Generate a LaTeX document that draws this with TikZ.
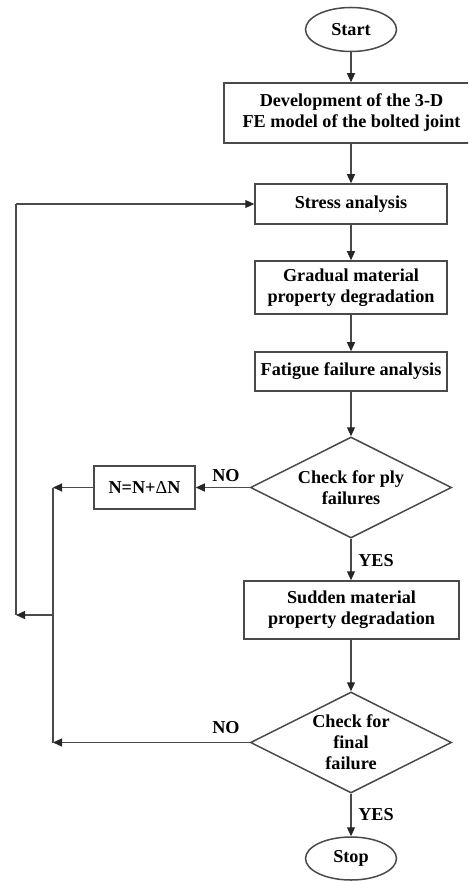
\documentclass[tikz,border=0pt]{standalone}
\usepackage{fontspec}
\setmainfont{Liberation Serif}
\usetikzlibrary{shapes.geometric,arrows.meta}
\definecolor{linegray}{HTML}{4A4A4A}
\tikzset{
  every node/.style={font=\bfseries\fontsize{9.1}{10.5}\selectfont, text=black},
  procbox/.style={draw=linegray, line width=0.75pt, rectangle, align=center, inner sep=0pt},
  terminal/.style={draw=linegray, line width=0.75pt, ellipse, inner sep=0pt,
    minimum width=45.5pt, minimum height=22pt},
  decision/.style={draw=linegray, line width=0.75pt, diamond, shape aspect=2, align=center,
    inner sep=0pt, minimum width=100.5pt, minimum height=50.5pt},
  flow/.style={draw=linegray, line width=0.55pt, -{Triangle[length=4.5pt,width=4pt,color=black!85]}},
  link/.style={draw=linegray, line width=0.55pt},
  answer/.style={inner sep=0pt}
}
\begin{document}
\begin{tikzpicture}[x=0.5pt, y=-0.5pt]
  \useasboundingbox (0,0) rectangle (468,881);
  \clip (0,0) rectangle (468,881);
  \fill[white] (0,0) rectangle (468,881);

  % main column
  \node[terminal] (start) at (351,29.5) {Start};
  \node[procbox, minimum width=127.5pt, minimum height=30pt] (model) at (351.5,113)
    {Development of the 3-D\\FE model of the bolted joint};
  \node[procbox, minimum width=96pt, minimum height=20pt] (stress) at (351,204) {Stress analysis};
  \node[procbox, minimum width=96pt, minimum height=26.5pt] (gradual) at (351,287.5)
    {Gradual material\\property degradation};
  \node[procbox, minimum width=96pt, minimum height=19.5pt] (fatigue) at (351,371.5)
    {Fatigue failure analysis};
  \node[decision] (ply) at (351,487.5) {Check for ply\\failures};
  \node[procbox, minimum width=107.5pt, minimum height=29pt] (sudden) at (351.5,610)
    {Sudden material\\property degradation};
  \node[decision] (final) at (351,742.5) {Check for\\final\\failure};
  \node[terminal, minimum height=21.5pt] (stop) at (351,858.5) {Stop};

  % cycle counter update
  \node[procbox, minimum width=50.5pt, minimum height=21.5pt] (incr) at (144.5,487.5)
    {N=N+{\mdseries Δ}N};

  % loop-back junctions
  \coordinate (joinA) at (53,487.5);
  \coordinate (joinB) at (53,742.5);
  \coordinate (joinC) at (53,615);
  \coordinate (outerB) at (16,615);
  \coordinate (outerT) at (16,204);

  % vertical flow
  \draw[flow] (start.south) -- (start.south |- model.north);
  \draw[flow] (model.south -| start.south) -- (stress.north);
  \draw[flow] (stress) -- (gradual);
  \draw[flow] (gradual) -- (fatigue);
  \draw[flow] (fatigue) -- (ply);
  \draw[flow] (ply) -- (sudden.north -| ply.south);
  \draw[flow] (sudden.south -| final.north) -- (final);
  \draw[flow] (final) -- (stop);

  % NO branches
  \draw[flow] (ply.west) -- (incr.east);
  \draw[flow] (incr.west) -- (joinA);
  \draw[flow] (final.west) -- (joinB);
  \draw[link] (joinA) -- (joinB);
  \draw[flow] (joinC) -- (outerB);
  \draw[link] (outerB) -- (outerT);
  \draw[flow] (outerT) -- (stress.west);

  % branch labels
  \node[answer] (noA) at (226,476) {NO};
  \node[answer] (yesA) at (376,560.5) {YES};
  \node[answer] (noB) at (226,728) {NO};
  \node[answer] (yesB) at (376,815) {YES};
\end{tikzpicture}
\end{document}
